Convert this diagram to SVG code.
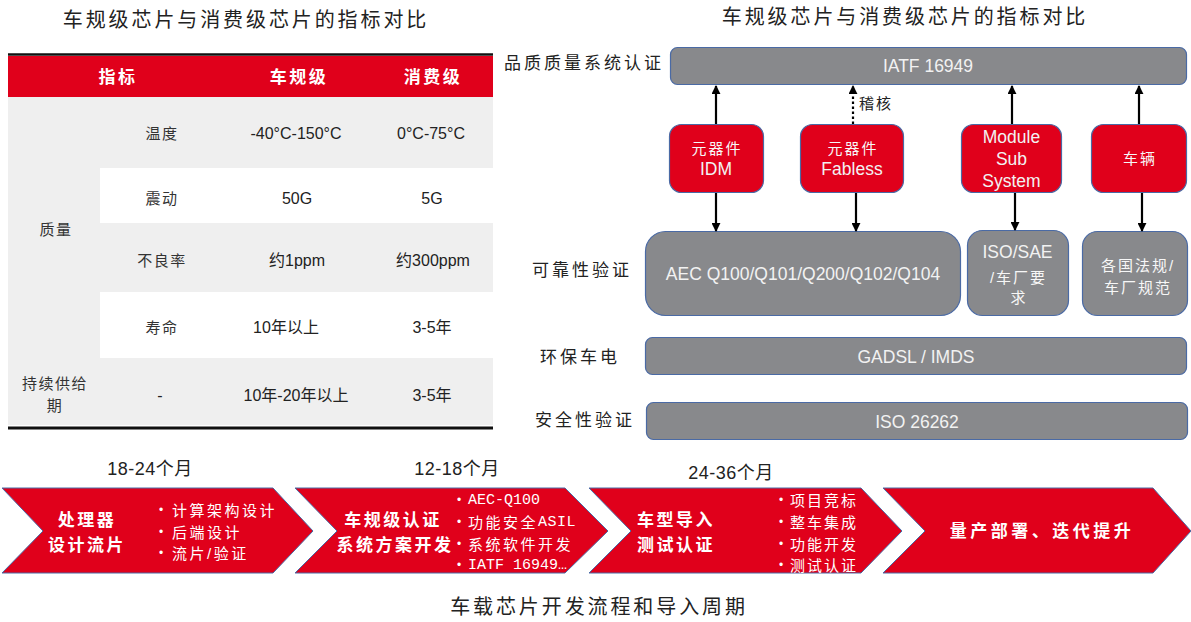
<svg xmlns="http://www.w3.org/2000/svg" width="1191" height="622" viewBox="0 0 1191 622">
<defs>
<style>
text{font-family:"Liberation Sans","Noto Sans CJK SC",sans-serif;dominant-baseline:central;text-anchor:middle}
.title{font-size:20px;letter-spacing:2.9px;fill:#222}
.hdr{font-size:17px;font-weight:bold;fill:#fff;letter-spacing:2.5px}
.cjk{font-size:15px;fill:#333;letter-spacing:1.5px}
.val{font-size:16px;fill:#222}
.lbl{font-size:17px;fill:#222;letter-spacing:3px;text-anchor:start}
.gbox{fill:#88898c;stroke:#4a6aa5;stroke-width:1.2}
.rbox{fill:#e0001b;stroke:#4a6aa5;stroke-width:1.2}
.wt{font-size:17.5px;fill:#f2f2f2}
.wc{font-size:15px;fill:#f7f7f7;letter-spacing:2px}
.chev{fill:#e0001b;stroke:#4a6aa5;stroke-width:1}
.cm{font-size:17px;font-weight:bold;fill:#fff;letter-spacing:2.5px}
.bl{font-size:15px;fill:#fff;letter-spacing:2.5px;text-anchor:start}
.bl3{font-size:15px;fill:#fff;letter-spacing:2px;text-anchor:start}
.blm{font-size:15px;fill:#fff;text-anchor:start;font-family:"Liberation Mono","Noto Sans CJK SC",monospace}
.dot{font-size:12px;fill:#fff;text-anchor:middle}
.dur{font-size:18px;fill:#222;letter-spacing:0.5px}
.arr{stroke:#000;stroke-width:2.2;fill:none}
</style>
<marker id="ah" viewBox="0 0 10 10" refX="9" refY="5" markerWidth="9" markerHeight="9" markerUnits="userSpaceOnUse" orient="auto">
<path d="M0,0 L10,5 L0,10 Z" fill="#000"/>
</marker>
</defs>
<rect width="1191" height="622" fill="#fff"/>

<!-- Left title -->
<text class="title" x="246" y="20">车规级芯片与消费级芯片的指标对比</text>

<!-- Table -->
<g id="table">
<rect x="8" y="56" width="485" height="41" fill="#e0001b"/>
<rect x="8" y="97" width="485" height="328" fill="#efefef"/>
<rect x="100" y="168" width="393" height="55" fill="#fff"/>
<rect x="100" y="292" width="393" height="66" fill="#fff"/>
<line x1="8" y1="54.5" x2="493" y2="54.5" stroke="#111" stroke-width="2.5"/>
<line x1="8" y1="428" x2="493" y2="428" stroke="#111" stroke-width="3"/>
<text class="hdr" x="118" y="77">指标</text>
<text class="hdr" x="299" y="77">车规级</text>
<text class="hdr" x="433" y="77">消费级</text>
<text class="cjk" x="162" y="133">温度</text>
<text class="val" x="296" y="133">-40°C-150°C</text>
<text class="val" x="431" y="133">0°C-75°C</text>
<text class="cjk" x="162" y="198">震动</text>
<text class="val" x="297" y="198">50G</text>
<text class="val" x="432" y="198">5G</text>
<text class="cjk" x="56" y="229">质量</text>
<text class="cjk" x="162" y="260">不良率</text>
<text class="val" x="297" y="260">约1ppm</text>
<text class="val" x="433" y="260">约300ppm</text>
<text class="cjk" x="162" y="327">寿命</text>
<text class="val" x="286" y="327">10年以上</text>
<text class="val" x="432" y="327">3-5年</text>
<text class="cjk" x="55" y="383">持续供给</text>
<text class="cjk" x="55" y="405">期</text>
<text class="val" x="160" y="395">-</text>
<text class="val" x="296" y="395">10年-20年以上</text>
<text class="val" x="432" y="395">3-5年</text>
</g>

<!-- Right title -->
<text class="title" x="905" y="17">车规级芯片与消费级芯片的指标对比</text>

<!-- Row labels -->
<text class="lbl" x="504" y="63">品质质量系统认证</text>
<text class="lbl" x="532" y="270">可靠性验证</text>
<text class="lbl" x="540" y="357">环保车电</text>
<text class="lbl" x="535" y="420">安全性验证</text>

<g id="iatf">
<rect class="gbox" x="670.5" y="47.5" width="516" height="37" rx="7"/>
<text class="wt" x="928" y="66">IATF 16949</text>
</g>

<g id="idm">
<rect class="rbox" x="669.5" y="124.5" width="94" height="68" rx="12"/>
<text class="wc" x="717" y="148">元器件</text>
<text class="wt" x="716" y="169">IDM</text>
</g>
<g id="fabless">
<rect class="rbox" x="800.5" y="124.5" width="103" height="68" rx="12"/>
<text class="wc" x="853" y="148">元器件</text>
<text class="wt" x="852" y="169">Fabless</text>
</g>
<g id="module">
<rect class="rbox" x="961.5" y="124.5" width="100" height="68" rx="12"/>
<text class="wt" x="1011.5" y="137">Module</text>
<text class="wt" x="1011.5" y="158.5">Sub</text>
<text class="wt" x="1011.5" y="180.5">System</text>
</g>
<g id="vehicle">
<rect class="rbox" x="1091.5" y="124.5" width="95" height="68" rx="12"/>
<text class="wc" x="1140" y="158">车辆</text>
</g>

<g id="aec">
<rect class="gbox" x="645.5" y="231.5" width="315" height="84" rx="20"/>
<text class="wt" x="803" y="274">AEC Q100/Q101/Q200/Q102/Q104</text>
</g>
<g id="isosae">
<rect class="gbox" x="967.5" y="230.5" width="101" height="85" rx="15"/>
<text class="wt" x="1017.5" y="252">ISO/SAE</text>
<text class="wc" x="1018.5" y="277">/车厂要</text>
<text class="wc" x="1019" y="297">求</text>
</g>
<g id="regs">
<rect class="gbox" x="1082.5" y="231.5" width="105" height="84" rx="15"/>
<text class="wc" x="1138" y="265">各国法规/</text>
<text class="wc" x="1138" y="287">车厂规范</text>
</g>
<g id="gadsl">
<rect class="gbox" x="645.5" y="337.5" width="541" height="37" rx="7"/>
<text class="wt" x="916" y="357">GADSL / IMDS</text>
</g>
<g id="iso26262">
<rect class="gbox" x="646.5" y="402.5" width="541" height="37" rx="7"/>
<text class="wt" x="917" y="422">ISO 26262</text>
</g>

<g id="connectors">
<line class="arr" x1="716" y1="124" x2="716" y2="86" marker-end="url(#ah)"/>
<line class="arr" x1="716" y1="193" x2="716" y2="231" marker-end="url(#ah)"/>
<line class="arr" x1="853" y1="124" x2="853" y2="86" stroke-dasharray="2.5 2.5" marker-end="url(#ah)"/>
<line class="arr" x1="856" y1="193" x2="856" y2="231" marker-end="url(#ah)"/>
<line class="arr" x1="1012" y1="124" x2="1012" y2="86" marker-end="url(#ah)"/>
<line class="arr" x1="1015" y1="193" x2="1015" y2="230" marker-end="url(#ah)"/>
<line class="arr" x1="1139" y1="124" x2="1139" y2="86" marker-end="url(#ah)"/>
<line class="arr" x1="1142" y1="193" x2="1142" y2="231" marker-end="url(#ah)"/>
<text x="859" y="103" style="font-size:15px;fill:#222;letter-spacing:2px;text-anchor:start">稽核</text>
</g>

<!-- Durations -->
<text class="dur" x="150" y="469">18-24个月</text>
<text class="dur" x="457" y="469">12-18个月</text>
<text class="dur" x="731" y="473">24-36个月</text>

<g id="step1">
<polygon class="chev" points="2,488 273,488 313,531 273,573 2,573 43,531"/>
<text class="cm" x="87" y="520">处理器</text>
<text class="cm" x="87" y="545">设计流片</text>
<text class="dot" x="161" y="510">•</text><text class="bl" x="172" y="510">计算架构设计</text>
<text class="dot" x="161" y="532">•</text><text class="bl" x="172" y="532">后端设计</text>
<text class="dot" x="161" y="553">•</text><text class="bl" x="172" y="553">流片/验证</text>
</g>
<g id="step2">
<polygon class="chev" points="295,488 565,488 608,531 565,573 295,573 337,531"/>
<text class="cm" x="393" y="520">车规级认证</text>
<text class="cm" x="395" y="545">系统方案开发</text>
<text class="dot" x="459" y="500">•</text><text class="blm" x="468" y="500">AEC-Q100</text>
<text class="dot" x="459" y="522">•</text><text class="bl" x="468" y="522">功能安全<tspan style="font-family:'Liberation Mono',monospace;letter-spacing:0.5px">ASIL</tspan></text>
<text class="dot" x="459" y="544">•</text><text class="bl" x="468" y="544">系统软件开发</text>
<text class="dot" x="459" y="565">•</text><text class="blm" x="468" y="565">IATF 16949…</text>
</g>
<g id="step3">
<polygon class="chev" points="589,488 861,488 902,531 861,573 589,573 631,531"/>
<text class="cm" x="676" y="520">车型导入</text>
<text class="cm" x="676" y="545">测试认证</text>
<text class="dot" x="781" y="500">•</text><text class="bl3" x="790" y="500">项目竞标</text>
<text class="dot" x="781" y="522">•</text><text class="bl3" x="790" y="522">整车集成</text>
<text class="dot" x="781" y="544">•</text><text class="bl3" x="790" y="544">功能开发</text>
<text class="dot" x="781" y="565">•</text><text class="bl3" x="790" y="565">测试认证</text>
</g>
<g id="step4">
<polygon class="chev" points="883,488 1153,488 1191,531 1153,573 883,573 925,531"/>
<text class="cm" x="1042" y="531" style="letter-spacing:3.5px">量产部署、迭代提升</text>
</g>

<text class="title" x="599" y="607">车载芯片开发流程和导入周期</text>
</svg>
